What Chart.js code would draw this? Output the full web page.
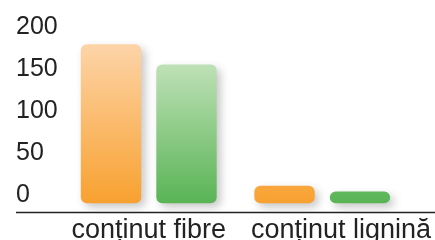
<!DOCTYPE html>
<html>
<head>
<meta charset="utf-8">
<script src="https://cdn.jsdelivr.net/npm/chart.js@4/dist/chart.umd.min.js"></script>
<style>
html,body{margin:0;padding:0;background:#fff;}
#wrap{width:435px;height:240px;position:relative;}
</style>
</head>
<body>
<div id="wrap"><canvas id="c" width="435" height="240"></canvas></div>
<script>
const categories = ["conținut fibre", "conținut lignină"];
const seriesOrange = [190, 21];
const seriesGreen = [166, 14];
const tickValues = [0, 50, 100, 150, 200];

function grad(ctx, top, bottom) {
  const ch = ctx.chart;
  const a = ch.chartArea;
  if (!a) return bottom;
  const g = ch.ctx.createLinearGradient(0, a.top + 8, 0, ch.scales.y.getPixelForValue(0));
  g.addColorStop(0, top);
  g.addColorStop(1, bottom);
  return g;
}

const shadowPlugin = {
  id: 'shadow',
  beforeDatasetsDraw(chart) {
    const c = chart.ctx;
    c.save();
    c.shadowColor = 'rgba(0,0,0,0.22)';
    c.shadowBlur = 9;
    c.shadowOffsetX = 4;
    c.shadowOffsetY = 4;
  },
  afterDatasetsDraw(chart) {
    chart.ctx.restore();
  }
};

const axisLine = {
  id: 'axisLine',
  afterDraw(chart) {
    const c = chart.ctx;
    const y = chart.chartArea.bottom;
    c.save();
    c.strokeStyle = '#222';
    c.lineWidth = 1.3;
    c.beginPath();
    c.moveTo(16, y + 0.5);
    c.lineTo(435, y + 0.5);
    c.stroke();
    c.restore();
  }
};

new Chart(document.getElementById('c'), {
  type: 'bar',
  data: {
    labels: categories,
    datasets: [
      {
        data: seriesOrange,
        backgroundColor: ctx => grad(ctx, '#fdd4a8', '#f8a130'),
        borderRadius: 6,
        borderSkipped: false,
        categoryPercentage: 0.87,
        barPercentage: 0.8
      },
      {
        data: seriesGreen,
        backgroundColor: ctx => grad(ctx, '#cee7c5', '#59b455'),
        borderRadius: 6,
        borderSkipped: false,
        categoryPercentage: 0.87,
        barPercentage: 0.8
      }
    ]
  },
  options: {
    responsive: false,
    animation: false,
    events: [],
    layout: { padding: { top: 36, left: 16, right: 26, bottom: 0 } },
    plugins: { legend: { display: false }, tooltip: { enabled: false } },
    scales: {
      x: {
        grid: { display: false, drawTicks: false },
        border: { display: false },
        ticks: {
          color: '#222',
          padding: 2,
          maxRotation: 0,
          autoSkip: false,
          font: { family: 'Liberation Sans', size: 27 },
          callback(v, i) {
            const t = categories[i];
            return i === 1 ? '\u00a0\u00a0\u00a0\u00a0\u00a0' + t : t;
          }
        },
        afterFit(s) { s.height = 28; s.paddingLeft = 0; s.paddingRight = 0; }
      },
      y: {
        min: -10.4,
        max: 200,
        grid: { display: false, drawTicks: false },
        border: { display: false },
        afterBuildTicks(s) { s.ticks = tickValues.map(v => ({ value: v })); },
        ticks: {
          color: '#222',
          crossAlign: 'far',
          labelOffset: -8.5,
          padding: 0,
          font: { family: 'Liberation Sans', size: 25 }
        },
        afterFit(s) { s.width = 46; s.paddingTop = 0; s.paddingBottom = 0; }
      }
    }
  },
  plugins: [shadowPlugin, axisLine]
});
</script>
</body>
</html>
